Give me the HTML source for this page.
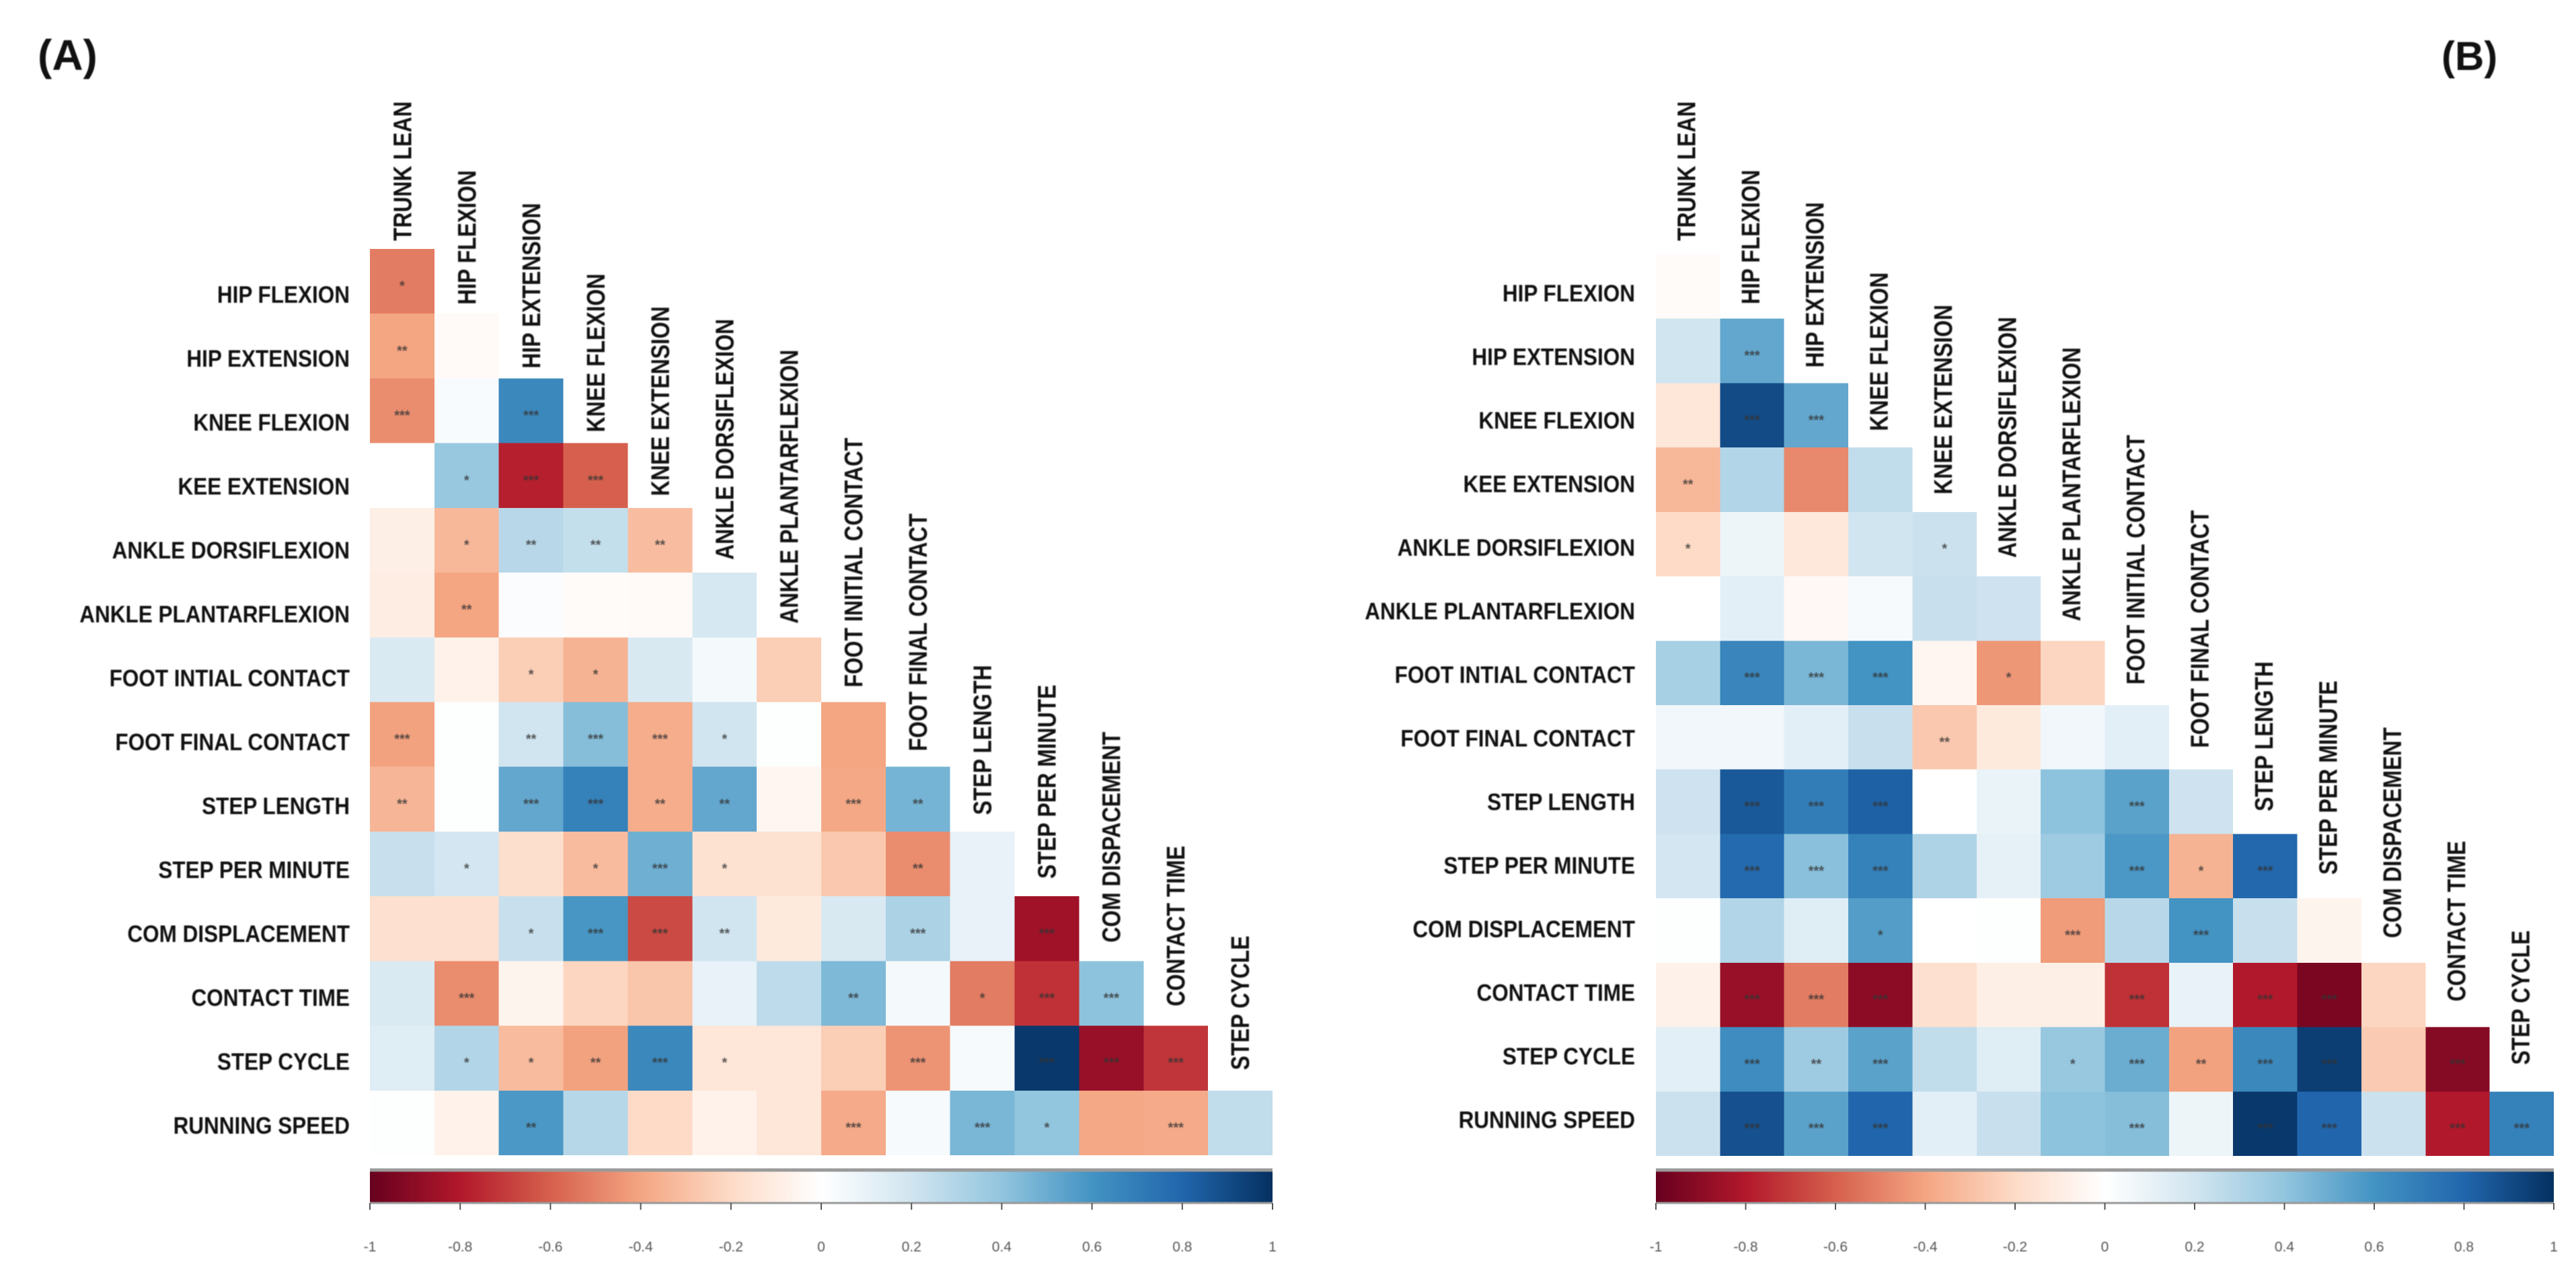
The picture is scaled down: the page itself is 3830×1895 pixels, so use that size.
<!DOCTYPE html>
<html lang="en">
<head>
<meta charset="utf-8">
<title>Correlation matrices (A) and (B)</title>
<style>
  html, body { margin: 0; padding: 0; background: #ffffff; }
  body { width: 3830px; height: 1895px; overflow: hidden; }
  svg { display: block; font-family: "Liberation Sans", sans-serif; }
  .soft { filter: blur(0.9px); }
</style>
</head>
<body>
<svg id="figure" xmlns="http://www.w3.org/2000/svg" width="3830" height="1895" viewBox="0 0 3830 1895">
  <rect x="0" y="0" width="3830" height="1895" fill="#ffffff"/>
  <defs id="defs"></defs>
  <text class="soft" x="56" y="104" font-size="64" font-weight="700" fill="#111">(A)</text>
  <text class="soft" x="3630" y="104" font-size="60" font-weight="700" fill="#111">(B)</text>
  <g id="panel-a"></g>
  <g id="panel-b"></g>
</svg>
<script>
const rowLabels = ["HIP FLEXION","HIP EXTENSION","KNEE FLEXION","KEE EXTENSION","ANKLE DORSIFLEXION","ANKLE PLANTARFLEXION","FOOT INTIAL CONTACT","FOOT FINAL CONTACT","STEP LENGTH","STEP PER MINUTE","COM DISPLACEMENT","CONTACT TIME","STEP CYCLE","RUNNING SPEED"];
const colLabels = ["TRUNK LEAN","HIP FLEXION","HIP EXTENSION","KNEE FLEXION","KNEE EXTENSION","ANKLE DORSIFLEXION","ANKLE PLANTARFLEXION","FOOT INITIAL CONTACT","FOOT FINAL CONTACT","STEP LENGTH","STEP PER MINUTE","COM DISPACEMENT","CONTACT TIME","STEP CYCLE"];
const tickValues = [-1,-0.8,-0.6,-0.4,-0.2,0,0.2,0.4,0.6,0.8,1];
const paletteColors = ["#67001f","#b2182b","#d6604d","#f4a582","#fddbc7","#ffffff","#d1e5f0","#92c5de","#4393c3","#2166ac","#053061"];

const valuesA = [
  [-0.52],
  [-0.40,-0.03],
  [-0.47,0.03,0.65],
  [0.00,0.38,-0.78,-0.60],
  [-0.09,-0.33,0.28,0.24,-0.31],
  [-0.10,-0.40,0.02,-0.02,-0.03,0.18],
  [0.16,-0.07,-0.25,-0.35,0.17,0.05,-0.25],
  [-0.41,0.01,0.20,0.43,-0.37,0.20,0.01,-0.40],
  [-0.34,0.01,0.52,0.68,-0.37,0.52,-0.05,-0.39,0.47],
  [0.23,0.19,-0.18,-0.32,0.49,-0.16,-0.16,-0.27,-0.47,0.10],
  [-0.17,-0.17,0.23,0.59,-0.66,0.20,-0.12,0.17,0.32,0.10,-0.85],
  [0.16,-0.47,-0.06,-0.22,-0.28,0.10,0.26,0.45,0.05,-0.52,-0.73,0.41],
  [0.14,0.30,-0.32,-0.41,0.65,-0.14,-0.14,-0.25,-0.45,0.04,0.97,-0.87,-0.72],
  [0.01,-0.07,0.58,0.29,-0.20,-0.07,-0.14,-0.38,0.04,0.46,0.40,-0.39,-0.38,0.25]
];
const starsA = [
  [1],
  [2,0],
  [3,0,3],
  [0,1,3,3],
  [0,1,2,2,2],
  [0,2,0,0,0,0],
  [0,0,1,1,0,0,0],
  [3,0,2,3,3,1,0,0],
  [2,0,3,3,2,2,0,3,2],
  [0,1,0,1,3,1,0,0,2,0],
  [0,0,1,3,3,2,0,0,3,0,3],
  [0,3,0,0,0,0,0,2,0,1,3,3],
  [0,1,1,2,3,1,0,0,3,0,3,3,3],
  [0,0,2,0,0,0,0,3,0,3,1,0,3,0]
];
const valuesB = [
  [-0.02],
  [0.20,0.52],
  [-0.14,0.90,0.52],
  [-0.33,0.30,-0.48,0.25],
  [-0.20,0.08,-0.13,0.20,0.22],
  [0.00,0.12,-0.04,0.04,0.23,0.21],
  [0.33,0.66,0.46,0.60,-0.05,-0.44,-0.22],
  [0.06,0.06,0.12,0.23,-0.27,-0.12,0.06,0.12],
  [0.21,0.85,0.70,0.82,0.00,0.09,0.41,0.54,0.21],
  [0.19,0.78,0.42,0.68,0.31,0.11,0.36,0.58,-0.35,0.79],
  [0.01,0.30,0.14,0.56,0.00,0.01,-0.43,0.28,0.60,0.23,-0.06],
  [-0.08,-0.87,-0.52,-0.90,-0.17,-0.09,-0.09,-0.73,0.10,-0.80,-0.95,-0.22],
  [0.12,0.63,0.36,0.54,0.25,0.14,0.38,0.50,-0.41,0.65,0.95,-0.26,-0.92],
  [0.22,0.88,0.54,0.80,0.12,0.23,0.41,0.43,0.08,0.97,0.80,0.22,-0.80,0.68]
];
const starsB = [
  [0],
  [0,3],
  [0,3,3],
  [2,0,0,0],
  [1,0,0,0,1],
  [0,0,0,0,0,0],
  [0,3,3,3,0,1,0],
  [0,0,0,0,2,0,0,0],
  [0,3,3,3,0,0,0,3,0],
  [0,3,3,3,0,0,0,3,1,3],
  [0,0,0,1,0,0,3,0,3,0,0],
  [0,3,3,3,0,0,0,3,0,3,3,0],
  [0,3,2,3,0,0,1,3,2,3,3,0,3],
  [0,3,3,3,0,0,0,3,0,3,3,0,3,3]
];

const SVGNS = "http://www.w3.org/2000/svg";

function make(tag, attrs, parent) {
  const el = document.createElementNS(SVGNS, tag);
  for (const k in attrs) el.setAttribute(k, attrs[k]);
  parent.appendChild(el);
  return el;
}

function hexToRgb(h) {
  return [parseInt(h.slice(1,3),16), parseInt(h.slice(3,5),16), parseInt(h.slice(5,7),16)];
}

function colorScale(v) {
  const t = (Math.max(-1, Math.min(1, v)) + 1) / 2 * (paletteColors.length - 1);
  const i = Math.min(Math.floor(t), paletteColors.length - 2);
  const f = t - i;
  const a = hexToRgb(paletteColors[i]);
  const b = hexToRgb(paletteColors[i + 1]);
  return "rgb(" + a.map((c, k) => Math.round(c + (b[k] - c) * f)).join(",") + ")";
}

function drawPanel(root, values, stars, g) {
  const xScale = c => g.left + c * (g.right - g.left) / colLabels.length;
  const yScale = r => g.top + r * (g.bottom - g.top) / rowLabels.length;
  const barX = v => g.left + (v + 1) / 2 * (g.right - g.left);

  values.forEach((row, r) => {
    row.forEach((v, c) => {
      const cell = make("rect", {
        x: xScale(c), y: yScale(r),
        width: xScale(c + 1) - xScale(c), height: yScale(r + 1) - yScale(r),
        fill: colorScale(v), "shape-rendering": "crispEdges"
      }, root);
      
      
      const n = stars[r][c];
      if (n > 0) {
        const s = make("text", {
          x: (xScale(c) + xScale(c + 1)) / 2,
          y: (yScale(r) + yScale(r + 1)) / 2 + 13.5,
          "font-size": 20, "font-weight": 700, "text-anchor": "middle",
          fill: "#333", "fill-opacity": 0.8, class: "soft"
        }, root);
        s.textContent = "*".repeat(n);
        
        
      }
    });
  });

  rowLabels.forEach((label, i) => {
    const t = make("text", {
      transform: "translate(" + g.rowLabelRight + "," + (g.rowLabelY0 + i * g.rowLabelDy + 13) + ") scale(0.9,1)",
      "font-size": 35, "font-weight": 700, "text-anchor": "end", fill: "#111", class: "soft"
    }, root);
    t.textContent = label;
    
    
  });

  colLabels.forEach((label, i) => {
    const t = make("text", {
      transform: "translate(" + (g.colLabelX0 + i * g.colLabelDx + 13.5) + "," + (g.colLabelY0 + i * g.colLabelDy) + ") rotate(-90) scale(0.84,1)",
      "font-size": 38, "font-weight": 700, fill: "#111", class: "soft"
    }, root);
    t.textContent = label;
    
    
  });

  const bar = make("rect", {
    x: g.left, y: g.barTop, width: g.right - g.left, height: g.barBottom - g.barTop,
    fill: "url(#rdbu)", "shape-rendering": "crispEdges"
  }, root);
  
  

  const edgeTop = make("line", {
    x1: g.left, x2: g.right, y1: g.barTop, y2: g.barTop, stroke: "#9a9a9a", "stroke-width": 5
  }, root);
  
  

  const edgeBottom = make("line", {
    x1: g.left, x2: g.right, y1: g.barBottom, y2: g.barBottom, stroke: "#9a9a9a", "stroke-width": 3
  }, root);
  
  

  tickValues.forEach(v => {
    const tick = make("line", {
      x1: barX(v), x2: barX(v), y1: g.barBottom, y2: g.barBottom + 10, stroke: "#555", "stroke-width": 2
    }, root);
    
    
    const lab = make("text", {
      x: barX(v), y: 1860, "font-size": 21, "text-anchor": "middle", fill: "#555", class: "soft"
    }, root);
    lab.textContent = String(v);
    
    
  });
}

const defs = document.getElementById("defs");
const grad = make("linearGradient", { id: "rdbu", x1: "0", x2: "1", y1: "0", y2: "0" }, defs);
paletteColors.forEach((col, i) => {
  make("stop", { offset: i / (paletteColors.length - 1), "stop-color": col }, grad);
});

drawPanel(document.getElementById("panel-a"), valuesA, starsA, {
  left: 550, right: 1892, top: 370, bottom: 1717,
  rowLabelRight: 520, rowLabelY0: 437, rowLabelDy: 95,
  colLabelX0: 598, colLabelDx: 95.8, colLabelY0: 358, colLabelDy: 94.8,
  barTop: 1739, barBottom: 1788
});
drawPanel(document.getElementById("panel-b"), valuesB, starsB, {
  left: 2462, right: 3797, top: 378, bottom: 1718,
  rowLabelRight: 2431, rowLabelY0: 435, rowLabelDy: 94.5,
  colLabelX0: 2507, colLabelDx: 95.4, colLabelY0: 358, colLabelDy: 94.2,
  barTop: 1739, barBottom: 1788
});
</script>
</body>
</html>
